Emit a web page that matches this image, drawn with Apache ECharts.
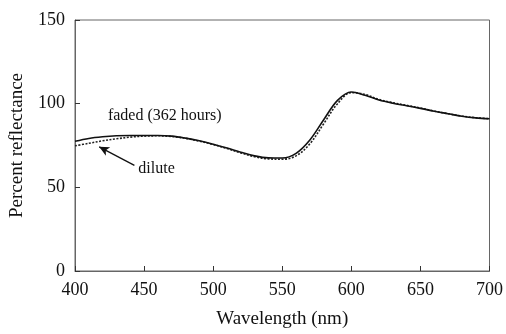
<!DOCTYPE html>
<html>
<head>
<meta charset="utf-8">
<script src="https://cdn.jsdelivr.net/npm/echarts@6/dist/echarts.min.js"></script>
<style>
  html, body { margin: 0; padding: 0; background: #fff; }
  #main { width: 506px; height: 334px; }
</style>
</head>
<body>
<div id="main"></div>
<script>
var wavelengths = [400, 410, 420, 430, 440, 450, 460, 470, 480, 490, 500, 510, 520, 530, 540, 550,
                   560, 570, 580, 590, 600, 610, 620, 630, 640, 650, 660, 670, 680, 690, 700];
var faded = [77.5, 79.2, 80.2, 80.8, 81, 81, 81, 80.6, 79.4, 77.8, 75.8, 73.5, 71, 68.8, 67.6, 67.5,
             70.3, 78.3, 90.4, 102, 107, 105, 102.2, 100.3, 98.8, 97.2, 95.5, 94, 92.5, 91.5, 91];
var dilute = [74.8, 76.3, 77.8, 79, 80, 80.6, 80.8, 80.4, 79.3, 77.6, 75.6, 73.2, 70.6, 68.3, 67, 66.8,
              68.8, 76, 88, 100, 106.6, 105.5, 102.5, 100.6, 99, 97.4, 95.6, 94, 92.6, 91.6, 91];
var xTicks = [400, 450, 500, 550, 600, 650, 700];
var yTicks = [0, 50, 100, 150];

// annotation positions, in data coordinates
var fadedLabelAt = [465, 92.6];
var diluteLabelAt = [459, 61.2];
var arrowFrom = [443, 63.1];
var arrowTo = [417.5, 74.2];

function pairs(xs, ys) {
    return xs.map(function (x, i) { return [x, ys[i]]; });
}

var FONT = 'Liberation Serif';
var dom = document.getElementById('main');
var myChart = echarts.init(dom);

var option = {
    animation: false,
    grid: {
        left: 74, right: 15, top: 20, bottom: 58,
        show: true,
        borderColor: '#666',
        borderWidth: 1
    },
    xAxis: {
        type: 'value',
        min: xTicks[0],
        max: xTicks[xTicks.length - 1],
        interval: 50,
        name: 'Wavelength (nm)',
        nameLocation: 'middle',
        nameGap: 39,
        nameTextStyle: { fontFamily: FONT, fontSize: 19, color: '#111' },
        axisLine: { show: true, lineStyle: { color: '#666', width: 1 } },
        axisTick: { show: true, inside: true, length: 5, lineStyle: { color: '#333' } },
        axisLabel: { fontFamily: FONT, fontSize: 18, color: '#111', margin: 10 },
        splitLine: { show: false }
    },
    yAxis: {
        type: 'value',
        min: yTicks[0],
        max: yTicks[yTicks.length - 1],
        interval: 50,
        name: 'Percent reflectance',
        nameLocation: 'middle',
        nameGap: 48,
        nameTextStyle: { fontFamily: FONT, fontSize: 19, color: '#111' },
        axisLine: { show: true, lineStyle: { color: '#666', width: 1 } },
        axisTick: { show: true, inside: true, length: 5, lineStyle: { color: '#333' } },
        axisLabel: { fontFamily: FONT, fontSize: 18, color: '#111', margin: 10 },
        splitLine: { show: false }
    },
    series: [
        {
            name: 'faded (362 hours)',
            type: 'line',
            smooth: 0.35,
            showSymbol: false,
            data: pairs(wavelengths, faded),
            lineStyle: { color: '#111', width: 1.6, type: 'solid' },
            z: 3
        },
        {
            name: 'dilute',
            type: 'line',
            smooth: 0.35,
            showSymbol: false,
            data: pairs(wavelengths, dilute),
            lineStyle: { color: '#222', width: 1.6, type: [2, 1.5] },
            z: 2,
            markLine: {
                silent: true,
                symbol: ['none', 'arrow'],
                symbolSize: [7, 10],
                label: { show: false },
                lineStyle: { color: '#111', width: 1.3, type: 'solid' },
                data: [[{ coord: arrowFrom }, { coord: arrowTo }]]
            }
        }
    ]
};
myChart.setOption(option, true);

var pf = myChart.convertToPixel({ gridIndex: 0 }, fadedLabelAt);
var pd = myChart.convertToPixel({ gridIndex: 0 }, diluteLabelAt);
myChart.setOption({
    graphic: [
        {
            type: 'text', x: pf[0], y: pf[1],
            style: { text: 'faded (362 hours)', font: '16px ' + FONT, fill: '#111',
                     align: 'center', verticalAlign: 'middle' }
        },
        {
            type: 'text', x: pd[0], y: pd[1],
            style: { text: 'dilute', font: '16px ' + FONT, fill: '#111',
                     align: 'center', verticalAlign: 'middle' }
        }
    ]
});
</script>
</body>
</html>
